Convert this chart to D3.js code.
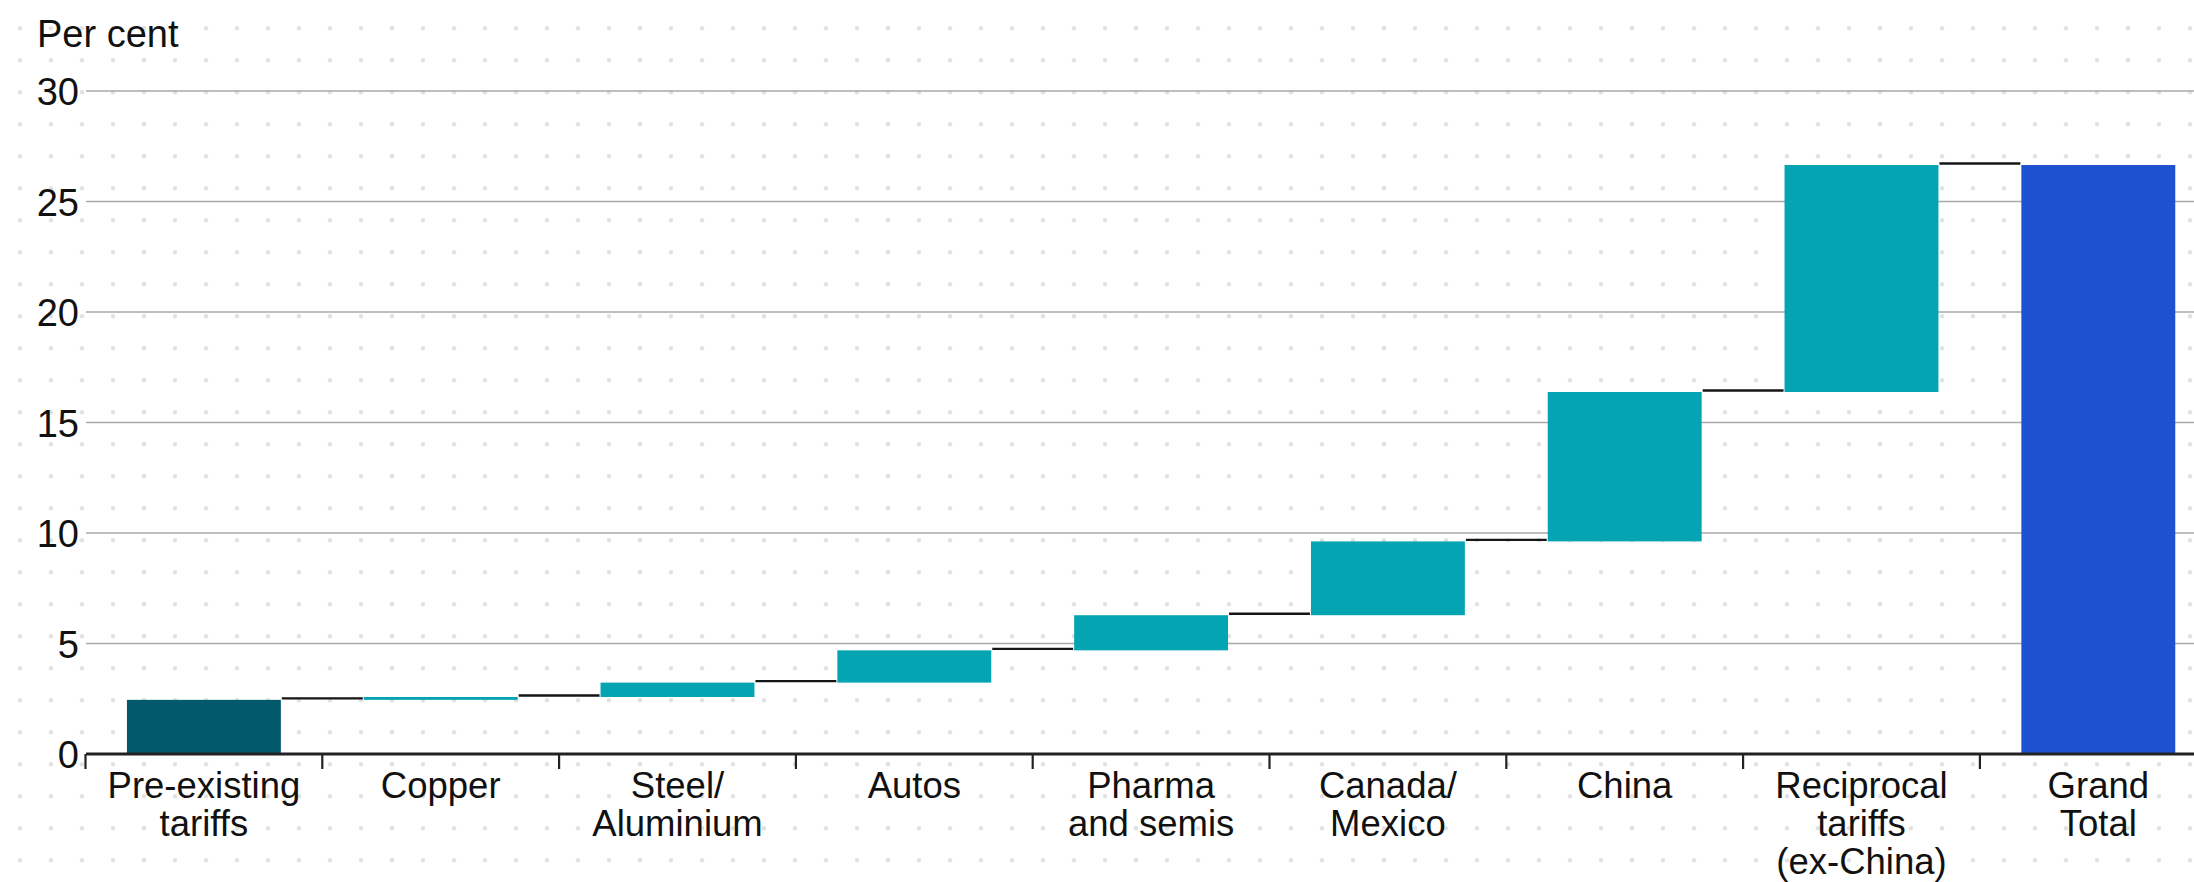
<!DOCTYPE html>
<html>
<head>
<meta charset="utf-8">
<script src="https://cdn.jsdelivr.net/npm/d3@7"></script>
<style>
  html, body { margin: 0; padding: 0; background: #ffffff; overflow: hidden; }
  svg { display: block; font-family: "Liberation Sans", Arial, sans-serif; }
</style>
</head>
<body>
<svg id="chart" width="2194" height="882"></svg>
<script>
// Tariff contributions, per cent (waterfall steps)
const categories = [
  "Pre-existing\ntariffs",
  "Copper",
  "Steel/\nAluminium",
  "Autos",
  "Pharma\nand semis",
  "Canada/\nMexico",
  "China",
  "Reciprocal\ntariffs\n(ex-China)",
  "Grand\nTotal"
];
const increments = [2.45, 0.13, 0.65, 1.46, 1.59, 3.34, 6.76, 10.27];
const grandTotal = 26.65;
const yTicks = [0, 5, 10, 15, 20, 25, 30];
const yLabel = "Per cent";

const W = 2194, H = 882;
const svg = d3.select("#chart");

// dotted background pattern
const bg = svg.append("g").attr("class", "dots");
const dotXs = d3.range(20, W + 5, 31);
const dotYs = d3.range(28.3, H + 5, 32);
bg.selectAll("g").data(dotYs).join("g")
  .selectAll("circle").data(dy => dotXs.map(dx => [dx, dy])).join("circle")
  .attr("cx", d => d[0]).attr("cy", d => d[1]).attr("r", 2.3)
  .attr("fill", "#e2e2e2");

// build waterfall rows
let run = 0;
const rows = categories.map((c, i) => {
  if (i < increments.length) {
    const start = run;
    run += increments[i];
    return { cat: c, start, end: run, kind: i === 0 ? "base" : "step" };
  }
  return { cat: c, start: 0, end: grandTotal, kind: "total" };
});

const x = d3.scaleBand()
  .domain(categories)
  .range([85.5, 85.5 + 9 * 236.8])
  .paddingInner(0.35)
  .paddingOuter(0.175);
const y = d3.scaleLinear().domain([0, 30]).range([754, 91]);
const step = x.step();
const half = step * x.paddingInner() / 2;

// gridlines
svg.append("g").selectAll("line").data(yTicks.filter(v => v > 0)).join("line")
  .attr("x1", 86).attr("x2", W)
  .attr("y1", d => y(d)).attr("y2", d => y(d))
  .attr("stroke", "#a9a9a9").attr("stroke-width", 1.6);

// y axis labels
const yAxis = svg.append("g")
  .attr("transform", "translate(86,0)")
  .call(d3.axisLeft(y).tickValues(yTicks).tickSize(0).tickPadding(7).tickFormat(d3.format("d")));
yAxis.select(".domain").remove();
yAxis.selectAll("text")
  .attr("font-size", 38)
  .attr("font-family", "'Liberation Sans', Arial, sans-serif")
  .attr("fill", "#111")
  .attr("dy", "0.36em");

svg.append("text")
  .attr("x", 37).attr("y", 47)
  .attr("font-size", 38)
  .attr("fill", "#111")
  .text(yLabel);

const colour = { base: "#02596b", step: "#05a4b3", total: "#1e51d0" };

// bars
svg.append("g").selectAll("rect").data(rows).join("rect")
  .attr("x", d => x(d.cat))
  .attr("width", x.bandwidth())
  .attr("y", d => y(d.end))
  .attr("height", d => y(d.start) - y(d.end))
  .attr("fill", d => colour[d.kind]);

// connectors between consecutive bars
const links = rows.slice(0, -1).map((d, i) => ({ from: d, to: rows[i + 1] }));
svg.append("g").selectAll("line").data(links).join("line")
  .attr("x1", d => x(d.from.cat) + x.bandwidth() + 1)
  .attr("x2", d => x(d.to.cat) - 1)
  .attr("y1", d => y(d.from.end) - 1.5)
  .attr("y2", d => y(d.from.end) - 1.5)
  .attr("stroke", "#151515").attr("stroke-width", 2.4);

// x axis line and boundary ticks
svg.append("line")
  .attr("x1", 86).attr("x2", W)
  .attr("y1", y(0)).attr("y2", y(0))
  .attr("stroke", "#222").attr("stroke-width", 3);
svg.append("g").selectAll("line").data(categories).join("line")
  .attr("x1", d => x(d) - half).attr("x2", d => x(d) - half)
  .attr("y1", y(0)).attr("y2", y(0) + 15)
  .attr("stroke", "#222").attr("stroke-width", 2.2);

// category labels
const lab = svg.append("g").selectAll("text").data(categories).join("text")
  .attr("text-anchor", "middle")
  .attr("font-size", 36.5)
  .attr("fill", "#111")
  .attr("transform", d => `translate(${x(d) + x.bandwidth() / 2},798)`);
lab.selectAll("tspan").data(d => d.split("\n")).join("tspan")
  .attr("x", 0)
  .attr("y", (d, i) => i * 38)
  .text(d => d);
</script>
</body>
</html>
